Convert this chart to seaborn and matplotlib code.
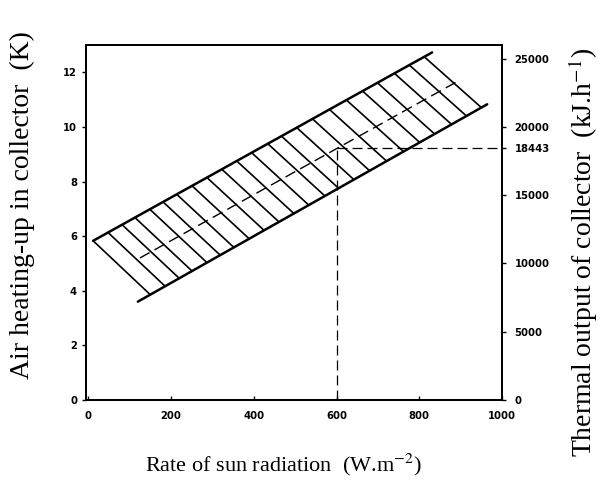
import numpy as np
import pandas as pd
import matplotlib
matplotlib.use('Agg')
import matplotlib.pyplot as plt
import seaborn as sns

# band edges (x in W/m2, y in K)
upper_x = [12, 831]
upper_y = [5.83, 12.73]
lower_x = [120, 964]
lower_y = [3.6, 10.83]
mean_x = [125, 896]
mean_y = [5.2, 11.7]

# hatch lines: start on the upper edge, end on the lower edge further right
hatch_x = [12, 48, 82, 113, 149, 181, 214, 251, 287, 323, 359, 395,
           434, 467, 504, 542, 583, 624, 663, 699, 740, 776, 812]
hatch_dx = 138

# operating point
op_x = 600
op_y = 9.22
op_q = 18443

left_ticks = [0, 2, 4, 6, 8, 10, 12]
right_ticks = [0, 5000, 10000, 15000, 20000, 25000, 18443]
x_ticks = [0, 200, 400, 600, 800, 1000]

sns.set_style('ticks')
plt.rcParams['font.family'] = ['DejaVu Sans']
plt.rcParams['mathtext.fontset'] = 'stix'
plt.rcParams['text.color'] = 'black'
plt.rcParams['xtick.color'] = 'black'
plt.rcParams['ytick.color'] = 'black'

fig = plt.figure(figsize=(6.02, 4.95), dpi=100)
ax = fig.add_axes([0.143, 0.192, 0.691, 0.717])

rows = []
for i, x0 in enumerate(hatch_x):
    x1 = x0 + hatch_dx
    rows.append((i, x0, np.interp(x0, upper_x, upper_y)))
    rows.append((i, x1, np.interp(x1, lower_x, lower_y)))
hatch = pd.DataFrame(rows, columns=['id', 'x', 'y'])

sns.lineplot(data=hatch, x='x', y='y', units='id', estimator=None,
             color='black', lw=1.2, ax=ax, legend=False)
sns.lineplot(x=upper_x, y=upper_y, color='black', lw=1.8, ax=ax)
sns.lineplot(x=lower_x, y=lower_y, color='black', lw=1.8, ax=ax)
sns.lineplot(x=mean_x, y=mean_y, color='black', lw=1.0, ax=ax,
             dashes=False, linestyle=(0, (8, 4)))

ax.plot([op_x, op_x], [0, op_y], color='black', lw=0.9, ls=(0, (8, 4)))
ax.plot([op_x, 1000], [op_y, op_y], color='black', lw=0.9, ls=(0, (8, 4)))

ax.set_xlim(-5, 1000)
ax.set_ylim(0, 13)
ax.set_xticks(x_ticks)
ax.set_yticks(left_ticks)
ax.tick_params(axis='both', labelsize=8, length=3, width=1)
ax.tick_params(axis='x', direction='in', pad=8)
for s in ax.spines.values():
    s.set_visible(True)
    s.set_linewidth(1.4)
    s.set_color('black')
for lab in ax.get_xticklabels() + ax.get_yticklabels():
    lab.set_fontweight('bold')
    lab.set_fontstretch('condensed')
ax.set_xlabel('')
ax.set_ylabel('')

ax2 = ax.twinx()
ax2.set_ylim(0, 13 * op_q / op_y)
ax2.set_yticks(right_ticks)
ax2.tick_params(axis='y', labelsize=8, length=3, width=1, pad=6)
for s in ax2.spines.values():
    s.set_linewidth(1.4)
    s.set_color('black')
for lab in ax2.get_yticklabels():
    lab.set_fontweight('bold')
    lab.set_fontstretch('condensed')

fig.text(0.47, 0.06, 'Rate of sun radiation  (W.m$^{-2}$)',
         family='Liberation Serif', fontsize=16, ha='center', va='center')
fig.text(0.037, 0.585, 'Air heating-up in collector  (K)',
         family='Liberation Serif', fontsize=20, rotation=90,
         ha='center', va='center')
fig.text(0.968, 0.49, 'Thermal output of collector  (kJ.h$^{-1}$)',
         family='Liberation Serif', fontsize=20, rotation=90,
         ha='center', va='center')

fig.savefig('out.png', dpi=100)
